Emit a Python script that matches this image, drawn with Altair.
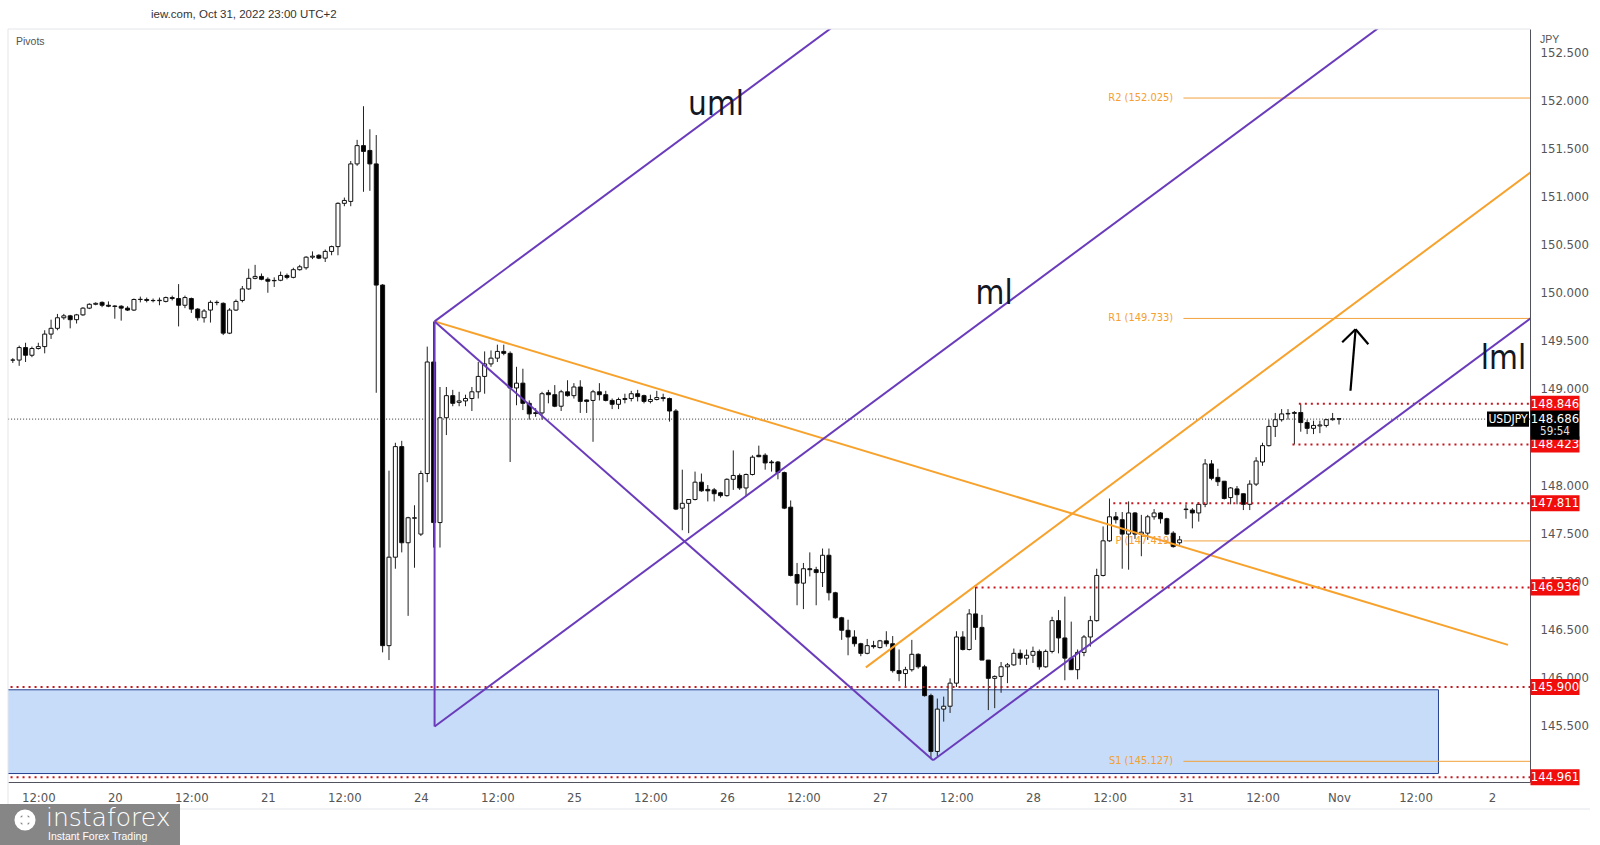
import altair as alt
import pandas as pd

# ---------------- data (hourly USDJPY, index 0 = Oct 19 12:00, weekends collapsed) -------------
FIRST_HOUR = -4
opens = [
    149.30, 149.30, 149.43, 149.35, 149.42, 149.44, 149.57, 149.63, 149.74, 149.76, 149.72, 149.77,
    149.84, 149.88, 149.90, 149.87, 149.862, 149.86, 149.84, 149.82, 149.93, 149.93, 149.92, 149.918,
    149.91, 149.95, 149.94, 149.87, 149.94, 149.83, 149.74, 149.82, 149.90, 149.89, 149.58, 149.82,
    149.92, 150.04, 150.15, 150.17, 150.14, 150.128, 150.13, 150.18, 150.16, 150.24, 150.26, 150.37,
    150.39, 150.36, 150.43, 150.48, 150.93, 150.95, 151.34, 151.53, 151.48, 151.34, 150.08, 146.33,
    147.25, 148.40, 147.40, 147.655, 147.49, 148.12, 149.28, 147.61, 148.70, 148.93, 148.86, 148.875,
    148.90, 148.97, 149.13, 149.26, 149.32, 149.39, 149.37, 149.01, 149.06, 148.85, 148.752, 148.75,
    148.96, 148.94, 148.82, 148.97, 148.93, 149.02, 148.885, 148.88, 148.97, 148.94, 148.88, 148.84,
    148.89, 148.90, 148.95, 148.93, 148.87, 148.89, 148.90, 148.90, 148.77, 147.76, 147.81, 147.85,
    148.03, 147.955, 147.95, 147.92, 147.89, 148.06, 148.10, 147.97, 148.11, 148.31, 148.31, 148.24,
    148.24, 148.13, 147.77, 147.07, 146.98, 147.13, 147.12, 147.09, 147.27, 146.88, 146.62, 146.49,
    146.42, 146.35, 146.25, 146.33, 146.31, 146.38, 146.35, 146.07, 146.04, 146.08, 146.24, 146.11,
    145.81, 145.23, 145.67, 145.70, 145.94, 146.42, 146.29, 146.66, 146.52, 146.18, 145.99, 146.01,
    146.11, 146.13, 146.25, 146.20, 146.23, 146.27, 146.11, 146.27, 146.59, 146.41, 146.20, 146.08,
    146.26, 146.42, 146.59, 147.06, 147.42, 147.67, 147.64, 147.49, 147.71, 147.49, 147.50, 147.67,
    147.71, 147.65, 147.50, 147.40, 147.745, 147.74, 147.71, 147.80, 148.22, 148.08, 148.04, 147.87,
    147.96, 147.91, 147.80, 148.01, 148.24, 148.41, 148.61, 148.68, 148.74, 148.745, 148.755, 148.65,
    148.59, 148.615, 148.62, 148.68, 148.69,
]
highs = [
    149.32, 149.45, 149.48, 149.44, 149.48, 149.61, 149.72, 149.78, 149.78, 149.77, 149.78, 149.85,
    149.89, 149.90, 149.91, 149.91, 149.87, 149.87, 149.86, 149.94, 149.96, 149.95, 149.94, 149.95,
    149.96, 149.97, 150.09, 149.97, 149.95, 149.84, 149.83, 149.92, 149.92, 149.90, 149.84, 149.93,
    150.07, 150.25, 150.29, 150.20, 150.16, 150.16, 150.22, 150.20, 150.26, 150.29, 150.38, 150.43,
    150.40, 150.45, 150.49, 150.94, 150.99, 151.37, 151.59, 151.94, 151.70, 151.64, 150.09, 148.15,
    148.44, 148.46, 147.67, 147.79, 148.15, 149.44, 149.70, 149.02, 149.02, 148.99, 148.97, 148.94,
    149.02, 149.28, 149.39, 149.40, 149.46, 149.46, 149.39, 149.23, 149.21, 148.88, 148.80, 148.97,
    148.99, 149.04, 148.99, 149.09, 149.06, 149.09, 148.89, 148.99, 149.06, 148.98, 148.90, 148.91,
    148.95, 148.98, 148.99, 148.94, 148.94, 148.98, 148.95, 148.91, 148.79, 148.16, 147.85, 148.14,
    148.12, 148.00, 147.97, 147.93, 148.07, 148.36, 148.12, 148.12, 148.31, 148.41, 148.33, 148.26,
    148.25, 148.14, 147.84, 147.19, 147.19, 147.30, 147.15, 147.34, 147.34, 146.89, 146.63, 146.60,
    146.49, 146.36, 146.40, 146.38, 146.39, 146.48, 146.43, 146.29, 146.11, 146.39, 146.25, 146.13,
    145.83, 145.78, 145.80, 145.99, 146.48, 146.48, 146.71, 146.94, 146.65, 146.18, 146.02, 146.16,
    146.15, 146.30, 146.29, 146.29, 146.32, 146.29, 146.29, 146.63, 146.70, 146.84, 146.58, 146.29,
    146.44, 146.64, 147.13, 147.57, 147.86, 147.72, 147.72, 147.83, 147.72, 147.69, 147.69, 147.75,
    147.72, 147.66, 147.52, 147.47, 147.80, 147.76, 147.82, 148.27, 148.26, 148.17, 148.04, 147.98,
    147.99, 147.91, 148.05, 148.29, 148.44, 148.68, 148.75, 148.79, 148.79, 148.77, 148.846, 148.68,
    148.67, 148.67, 148.69, 148.75, 148.69,
]
lows = [
    149.27, 149.24, 149.28, 149.33, 149.41, 149.37, 149.52, 149.61, 149.72, 149.63, 149.68, 149.76,
    149.83, 149.87, 149.85, 149.85, 149.73, 149.71, 149.81, 149.81, 149.90, 149.90, 149.90, 149.87,
    149.90, 149.92, 149.65, 149.84, 149.79, 149.71, 149.69, 149.69, 149.87, 149.56, 149.57, 149.81,
    149.90, 150.03, 150.14, 150.13, 150.00, 150.06, 150.12, 150.14, 150.15, 150.23, 150.24, 150.35,
    150.35, 150.32, 150.39, 150.39, 150.90, 150.90, 151.32, 151.05, 151.06, 148.96, 146.26, 146.18,
    147.13, 147.30, 146.64, 147.14, 147.47, 148.03, 147.35, 147.35, 148.52, 148.82, 148.82, 148.82,
    148.77, 148.90, 148.95, 149.23, 149.28, 149.35, 148.24, 148.83, 148.78, 148.68, 148.71, 148.68,
    148.85, 148.81, 148.77, 148.92, 148.90, 148.75, 148.75, 148.45, 148.88, 148.87, 148.79, 148.79,
    148.85, 148.87, 148.87, 148.85, 148.85, 148.88, 148.87, 148.66, 147.74, 147.53, 147.50, 147.84,
    147.93, 147.83, 147.83, 147.87, 147.88, 147.95, 147.95, 147.88, 148.10, 148.29, 148.16, 148.14,
    148.06, 147.75, 147.05, 146.75, 146.71, 147.05, 146.75, 146.94, 146.80, 146.61, 146.39, 146.23,
    146.32, 146.22, 146.24, 146.30, 146.30, 146.32, 146.05, 145.96, 145.91, 146.06, 146.09, 145.80,
    145.15, 145.18, 145.54, 145.63, 145.90, 146.28, 146.28, 146.39, 146.18, 145.66, 145.68, 145.84,
    145.94, 146.12, 146.13, 146.13, 146.15, 146.08, 146.10, 146.25, 146.25, 145.97, 146.08, 145.98,
    146.22, 146.32, 146.58, 147.05, 147.41, 147.60, 147.13, 147.12, 147.44, 147.26, 147.43, 147.64,
    147.60, 147.48, 147.35, 147.38, 147.65, 147.55, 147.62, 147.77, 148.05, 147.99, 147.85, 147.80,
    147.80, 147.74, 147.74, 147.99, 148.20, 148.40, 148.50, 148.66, 148.68, 148.423, 148.555, 148.53,
    148.53, 148.54, 148.60, 148.67, 148.63,
]
closes = [
    149.30, 149.43, 149.35, 149.42, 149.44, 149.57, 149.63, 149.74, 149.76, 149.72, 149.77, 149.84,
    149.88, 149.89, 149.87, 149.86, 149.858, 149.84, 149.82, 149.93, 149.932, 149.92, 149.918, 149.922,
    149.95, 149.94, 149.87, 149.95, 149.83, 149.74, 149.81, 149.90, 149.898, 149.58, 149.82, 149.91,
    150.04, 150.15, 150.17, 150.14, 150.12, 150.125, 150.18, 150.16, 150.24, 150.27, 150.37, 150.38,
    150.36, 150.43, 150.48, 150.93, 150.96, 151.34, 151.53, 151.47, 151.34, 150.08, 146.33, 147.25,
    148.40, 147.40, 147.66, 147.66, 148.12, 149.28, 147.61, 148.70, 148.93, 148.85, 148.875, 148.90,
    148.97, 149.13, 149.26, 149.32, 149.39, 149.37, 149.01, 149.06, 148.85, 148.74, 148.745, 148.95,
    148.94, 148.82, 148.97, 148.93, 149.02, 148.87, 148.87, 148.97, 148.94, 148.88, 148.84, 148.89,
    148.90, 148.95, 148.92, 148.87, 148.89, 148.91, 148.91, 148.77, 147.75, 147.81, 147.85, 148.03,
    147.94, 147.94, 147.91, 147.89, 148.06, 148.10, 147.97, 148.11, 148.29, 148.295, 148.23, 148.232,
    148.13, 147.76, 147.06, 146.98, 147.13, 147.12, 147.09, 147.27, 146.88, 146.62, 146.49, 146.42,
    146.35, 146.25, 146.33, 146.32, 146.38, 146.35, 146.07, 146.04, 146.08, 146.24, 146.11, 145.81,
    145.23, 145.67, 145.70, 145.94, 146.42, 146.29, 146.66, 146.52, 146.18, 145.99, 146.01, 146.11,
    146.13, 146.25, 146.20, 146.23, 146.27, 146.11, 146.27, 146.59, 146.41, 146.20, 146.08, 146.26,
    146.42, 146.59, 147.06, 147.42, 147.67, 147.64, 147.49, 147.71, 147.49, 147.51, 147.67, 147.71,
    147.65, 147.49, 147.36, 147.43, 147.75, 147.71, 147.80, 148.22, 148.07, 148.035, 147.86, 147.97,
    147.90, 147.80, 148.01, 148.25, 148.41, 148.61, 148.68, 148.74, 148.745, 148.755, 148.65, 148.59,
    148.62, 148.625, 148.68, 148.69, 148.686,
]

x_tick_values = list(range(0, 229, 12))
x_tick_labels = ["12:00", "20", "12:00", "21", "12:00", "24", "12:00", "25", "12:00", "26",
                 "12:00", "27", "12:00", "28", "12:00", "31", "12:00", "Nov", "12:00", "2"]
# 145.000 and 148.500 are hidden behind price tags in the reference
y_tick_values = [145.5, 146.0, 146.5, 147.0, 147.5, 148.0, 149.0,
                 149.5, 150.0, 150.5, 151.0, 151.5, 152.0, 152.5]

pivot_names = ["R2 (152.025)", "R1 (149.733)", "P (147.419)", "S1 (145.127)"]
pivot_values = [152.025, 149.733, 147.419, 145.127]
pivot_start = 179.6

level_values = [148.846, 148.423, 147.811, 146.936, 145.900, 144.961]
level_starts = [197.7, 196.7, 168.6, 147.0, -10.0, -10.0]
current_price = 148.686

# drawing anchors (hour index, price)
seg_kind = ["purple", "purple", "purple", "purple", "purple", "orange", "orange",
            "arrow", "arrow", "arrow"]
seg_x1 = [62.15, 62.15, 140.34, 62.15, 62.15, 62.15, 129.8, 205.8, 206.6, 206.6]
seg_y1 = [149.702, 145.489, 145.138, 149.702, 149.702, 149.702, 146.104, 148.981, 149.620, 149.620]
seg_x2 = [130.0, 215.0, 236.0, 140.34, 62.15, 230.5, 236.0, 206.6, 204.5, 208.6]
seg_y2 = [153.03, 152.99, 149.83, 145.138, 145.489, 146.338, 151.35, 149.620, 149.485, 149.464]

zone_x = [-10.0, 219.6]
zone_y = [145.00, 145.871]

label_texts = ["uml", "ml", "lml"]
label_x = [106.3, 149.9, 229.8]
label_y = [151.95, 149.99, 149.31]

# ---------------- geometry ----------------
XMIN, XMAX = -3.97, 233.17
YMIN, YMAX = 144.912, 152.743
W, H = 1522, 753

FONT = "Liberation Sans Narrow, DejaVu Sans Condensed, Liberation Sans, sans-serif"
FONT2 = "Liberation Sans, Arial, sans-serif"

n = len(opens)
candles = pd.DataFrame({"h": list(range(FIRST_HOUR, FIRST_HOUR + n)),
                        "o": opens, "hi": highs, "lo": lows, "c": closes})

xs = alt.Scale(domain=[XMIN, XMAX], nice=False, zero=False)
ys = alt.Scale(domain=[YMIN, YMAX], nice=False, zero=False)

label_expr = "[" + ",".join("'%s'" % s for s in x_tick_labels) + "][round(datum.value/12)]"
xaxis = alt.Axis(values=x_tick_values, labelExpr=label_expr, ticks=False, grid=False,
                 domainColor="#50535e", labelColor="#555555", labelFont=FONT,
                 labelFontSize=13, labelPadding=9, title=None, labelOverlap=False,
                 labelFlush=False, orient="bottom")
yaxis = alt.Axis(values=y_tick_values, format=".3f", ticks=False, grid=False, orient="right",
                 domainColor="#50535e", labelColor="#555555", labelFont=FONT,
                 labelFontSize=13, labelPadding=10, title=None, labelOverlap=False,
                 labelFlush=False)


def X(f):
    return alt.X(f, type="quantitative", scale=xs, axis=xaxis)


def Y(f):
    return alt.Y(f, type="quantitative", scale=ys, axis=yaxis)


one = pd.DataFrame({"k": [0]})

zone = alt.Chart(pd.DataFrame({"x0": [zone_x[0]], "x1": [zone_x[1]],
                               "y0": [zone_y[0]], "y1": [zone_y[1]]})).mark_rect(
    fill="#c6dcf8", stroke="#26408f", strokeWidth=1, clip=True
).encode(x=X("x0"), x2="x1", y=Y("y0"), y2="y1")

piv = pd.DataFrame({"name": pivot_names, "v": pivot_values,
                    "s": [pivot_start] * 4, "e": [XMAX + 5] * 4,
                    "lx": [pivot_start - 1.6] * 4})
pivot_lines = alt.Chart(piv).mark_rule(color="#f2a23c", strokeWidth=1, clip=True).encode(
    x=X("s"), x2="e", y=Y("v"))
pivot_text = alt.Chart(piv).mark_text(align="right", baseline="middle", color="#f5a030",
                                      fontSize=11, font=FONT).encode(
    x=X("lx"), y=Y("v"), text="name:N")

price_line = alt.Chart(pd.DataFrame({"v": [current_price], "s": [XMIN - 5], "e": [XMAX + 5]})
                       ).mark_rule(color="#333333", strokeWidth=1, strokeDash=[1, 2], clip=True
                                   ).encode(x=X("s"), x2="e", y=Y("v"))

wicks = alt.Chart(candles).mark_rule(color="#222222", strokeWidth=1, clip=True).encode(
    x=X("h"), y=Y("lo"), y2="hi")
bodies = alt.Chart(candles).mark_bar(size=4, stroke="#111111", strokeWidth=1, clip=True).encode(
    x=X("h"), y=Y("o"), y2="c",
    fill=alt.condition("datum.c >= datum.o", alt.value("#ffffff"), alt.value("#000000")))

lv = pd.DataFrame({"v": level_values, "s": level_starts, "e": [XMAX + 5] * len(level_values),
                   "t": ["%.3f" % v for v in level_values]})
levels = alt.Chart(lv).mark_rule(color="#c4161c", strokeWidth=2, strokeDash=[2, 4], clip=True
                                 ).encode(x=X("s"), x2="e", y=Y("v"))

segs = pd.DataFrame({"kind": seg_kind, "x1": seg_x1, "y1": seg_y1, "x2": seg_x2, "y2": seg_y2})
purple = alt.Chart(segs).transform_filter("datum.kind == 'purple'").mark_rule(
    color="#6a3cbc", strokeWidth=2, clip=True).encode(x=X("x1"), y=Y("y1"), x2="x2", y2="y2")
orange = alt.Chart(segs).transform_filter("datum.kind == 'orange'").mark_rule(
    color="#f7a22d", strokeWidth=2, clip=True).encode(x=X("x1"), y=Y("y1"), x2="x2", y2="y2")
arrow = alt.Chart(segs).transform_filter("datum.kind == 'arrow'").mark_rule(
    color="#000000", strokeWidth=2.2, clip=True).encode(x=X("x1"), y=Y("y1"), x2="x2", y2="y2")

names = alt.Chart(pd.DataFrame({"t": label_texts, "x": label_x, "y": label_y})).mark_text(
    fontSize=33, font=FONT, color="#131722", baseline="middle", align="center").encode(
    x=X("x"), y=Y("y"), text="t:N")

# right-axis price tags
RECT = "M-1,-0.33H1V0.33H-1Z"
BOXX = W + 25
tag_boxes = alt.Chart(lv).mark_point(shape=RECT, filled=True, color="#f20d0d", size=2401,
                                     opacity=1).encode(x=alt.value(BOXX), y=Y("v"))
tag_text = alt.Chart(lv).mark_text(color="#ffffff", fontSize=13, font=FONT, baseline="middle"
                                   ).encode(x=alt.value(BOXX), y=Y("v"), text="t:N")

cur = pd.DataFrame({"v": [current_price], "t": ["%.3f" % current_price], "cd": ["59:54"],
                    "sym": ["USDJPY"]})
cur_box = alt.Chart(cur).mark_point(shape="M-1,-0.6H1V0.6H-1Z", filled=True, color="#000000",
                                    size=2401, opacity=1, yOffset=6).encode(
    x=alt.value(BOXX), y=Y("v"))
cur_text = alt.Chart(cur).mark_text(color="#ffffff", fontSize=13, font=FONT, baseline="middle"
                                    ).encode(x=alt.value(BOXX), y=Y("v"), text="t:N")
cur_cd = alt.Chart(cur).mark_text(color="#e0e0e0", fontSize=11.5, font=FONT, baseline="middle",
                                  dy=13).encode(x=alt.value(BOXX), y=Y("v"), text="cd:N")
sym_box = alt.Chart(cur).mark_point(shape="M-1,-0.36H1V0.36H-1Z", filled=True, color="#000000",
                                    size=1764, opacity=1).encode(x=alt.value(W - 22), y=Y("v"))
sym_text = alt.Chart(cur).mark_text(color="#ffffff", fontSize=12, font=FONT, baseline="middle"
                                    ).encode(x=alt.value(W - 22), y=Y("v"), text="sym:N")

# frame & header
frame_top = alt.Chart(one).mark_rule(color="#e3e5ea", strokeWidth=1).encode(
    x=alt.value(0), x2=alt.value(W), y=alt.value(0))
frame_left = alt.Chart(one).mark_rule(color="#e3e5ea", strokeWidth=1).encode(
    x=alt.value(0), y=alt.value(0), y2=alt.value(780))
frame_bottom = alt.Chart(one).mark_rule(color="#e3e5ea", strokeWidth=1).encode(
    x=alt.value(-8), x2=alt.value(W + 60), y=alt.value(780))

header = alt.Chart(pd.DataFrame({"t": ["iew.com, Oct 31, 2022 23:00 UTC+2"]})).mark_text(
    align="left", baseline="middle", fontSize=11.5, font=FONT2, color="#333333").encode(
    x=alt.value(143), y=alt.value(-14.5), text="t:N")
pivots_lbl = alt.Chart(pd.DataFrame({"t": ["Pivots"]})).mark_text(
    align="left", baseline="middle", fontSize=10.5, font=FONT2, color="#555555").encode(
    x=alt.value(8), y=alt.value(12.5), text="t:N")
jpy_lbl = alt.Chart(pd.DataFrame({"t": ["JPY"]})).mark_text(
    align="left", baseline="middle", fontSize=10.5, font=FONT2, color="#555555").encode(
    x=alt.value(W + 10), y=alt.value(11), text="t:N")

logo_box = alt.Chart(one).mark_rect(color="#808080", opacity=0.95).encode(
    x=alt.value(-8), x2=alt.value(172), y=alt.value(775), y2=alt.value(816))
logo_gear = alt.Chart(one).mark_point(shape="circle", filled=False, color="#ffffff",
                                      strokeWidth=5, size=260, opacity=1).encode(
    x=alt.value(17), y=alt.value(791))
logo_gear2 = alt.Chart(one).mark_point(shape="cross", filled=True, color="#ffffff",
                                       size=180, opacity=1).encode(
    x=alt.value(17), y=alt.value(791))
logo_text = alt.Chart(pd.DataFrame({"t": ["instaforex"]})).mark_text(
    align="left", baseline="middle", fontSize=25, font="DejaVu Sans, sans-serif",
    fontWeight=300, color="#ffffff").encode(x=alt.value(38), y=alt.value(789), text="t:N")
logo_sub = alt.Chart(pd.DataFrame({"t": ["Instant Forex Trading"]})).mark_text(
    align="left", baseline="middle", fontSize=10.5, font=FONT2, color="#ffffff").encode(
    x=alt.value(40), y=alt.value(808), text="t:N")

chart = alt.layer(
    zone, pivot_lines, pivot_text, price_line, wicks, bodies, levels,
    orange, purple, arrow, names,
    tag_boxes, tag_text, cur_box, cur_text, cur_cd, sym_box, sym_text,
    frame_top, frame_left, frame_bottom, header, pivots_lbl, jpy_lbl,
    logo_box, logo_gear, logo_gear2, logo_text, logo_sub,
).properties(
    width=W, height=H,
    padding={"left": 8, "top": 29, "right": 70, "bottom": 63},
    autosize=alt.AutoSizeParams(type="none"),
    background="#ffffff",
).configure_view(stroke=None)

chart.save("out.html", embed_options={"renderer": "svg", "actions": False})
